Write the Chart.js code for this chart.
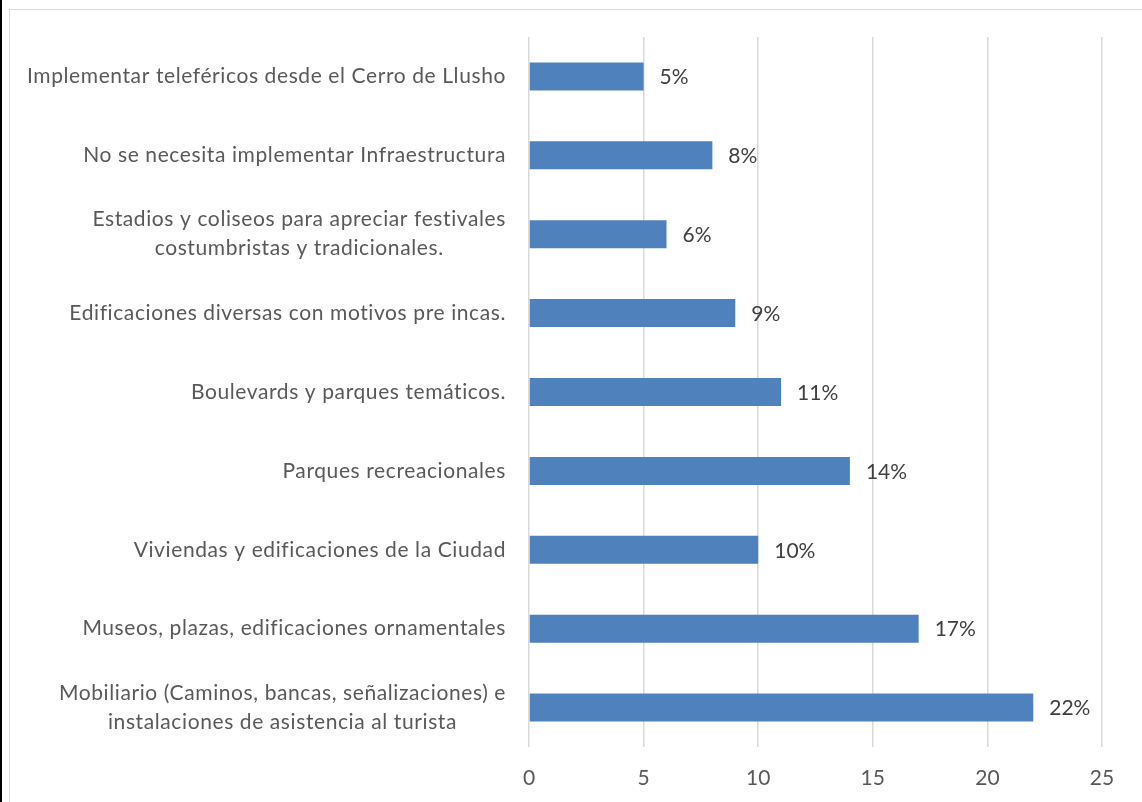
<!DOCTYPE html>
<html>
<head>
<meta charset="utf-8">
<script src="https://cdn.jsdelivr.net/npm/chart.js@4/dist/chart.umd.min.js"></script>
<style>
  html, body { margin: 0; padding: 0; background: #fff; }
  body { width: 1142px; height: 802px; position: relative; overflow: hidden; }
  #edge { position: absolute; left: 0; top: 0; width: 2px; height: 802px; background: #000; }
  #frame { position: absolute; left: 9px; top: 9px; width: 1200px; height: 900px; border: 1px solid #d9d9d9; box-sizing: border-box; }
  #wrap { position: absolute; left: 0; top: 0; width: 1142px; height: 802px; }
</style>
</head>
<body>
<div id="edge"></div>
<div id="frame"></div>
<div id="wrap"><canvas id="c"></canvas></div>
<script>
// Category names (multi-line entries are arrays of lines)
const categories = [
  "Implementar teleféricos desde el Cerro de Llusho",
  "No se necesita implementar Infraestructura",
  ["Estadios y coliseos para apreciar festivales", "costumbristas y tradicionales."],
  "Edificaciones diversas con motivos pre incas.",
  "Boulevards y parques temáticos.",
  "Parques recreacionales",
  "Viviendas y edificaciones de la Ciudad",
  "Museos, plazas, edificaciones ornamentales",
  ["Mobiliario (Caminos, bancas, señalizaciones) e", "instalaciones de asistencia al turista"]
];
// Percentage of responses per category
const values = [5, 8, 6, 9, 11, 14, 10, 17, 22];
// Value axis ticks
const xTicks = [0, 5, 10, 15, 20, 25];

const FONT = "Lato, 'Liberation Sans', sans-serif";
const TEXT = "#595959";

// Category labels: right-aligned block, lines centered within the block
const categoryLabels = {
  id: 'categoryLabels',
  afterDraw(chart) {
    const { ctx, scales: { y }, chartArea } = chart;
    ctx.save();
    ctx.font = "21px " + FONT;
    ctx.letterSpacing = "0.6px";
    ctx.fillStyle = TEXT;
    ctx.textAlign = "center";
    ctx.textBaseline = "middle";
    const right = chartArea.left - 23;
    const lh = 29;
    categories.forEach((lab, i) => {
      const lines = Array.isArray(lab) ? lab : [lab];
      const w = Math.max(...lines.map(l => ctx.measureText(l).width));
      const cx = right - w / 2;
      const cy = y.getPixelForValue(i);
      lines.forEach((l, k) => {
        ctx.fillText(l, cx, cy + (k - (lines.length - 1) / 2) * lh);
      });
    });
    ctx.restore();
  }
};

// Value labels drawn to the right of each bar
const valueLabels = {
  id: 'valueLabels',
  afterDatasetsDraw(chart) {
    const { ctx } = chart;
    const meta = chart.getDatasetMeta(0);
    ctx.save();
    ctx.font = "21px " + FONT;
    ctx.fillStyle = "#404040";
    ctx.textAlign = "left";
    ctx.textBaseline = "middle";
    meta.data.forEach((bar, i) => {
      ctx.fillText(values[i] + "%", bar.x + 16, bar.y + 1);
    });
    ctx.restore();
  }
};

new Chart(document.getElementById('c'), {
  type: 'bar',
  data: {
    labels: categories,
    datasets: [{
      data: values,
      backgroundColor: '#4f81bd',
      borderWidth: 0,
      barPercentage: 0.355,
      categoryPercentage: 1
    }]
  },
  options: {
    indexAxis: 'y',
    responsive: true,
    maintainAspectRatio: false,
    animation: false,
    events: [],
    layout: { padding: { left: 529, top: 37, right: 40, bottom: 0 } },
    plugins: { legend: { display: false }, tooltip: { enabled: false } },
    scales: {
      x: {
        min: 0, max: 25,
        afterBuildTicks(scale) { scale.ticks = xTicks.map(v => ({ value: v })); },
        afterFit(scale) { scale.height = 55; },
        grid: { color: '#d9d9d9', lineWidth: 1.5, drawTicks: false },
        border: { display: false },
        ticks: { color: TEXT, font: { family: FONT, size: 21 }, padding: 19 }
      },
      y: {
        afterFit(scale) { scale.width = 0; },
        grid: { display: false },
        border: { display: false },
        ticks: { display: false }
      }
    }
  },
  plugins: [categoryLabels, valueLabels]
});
</script>
</body>
</html>
